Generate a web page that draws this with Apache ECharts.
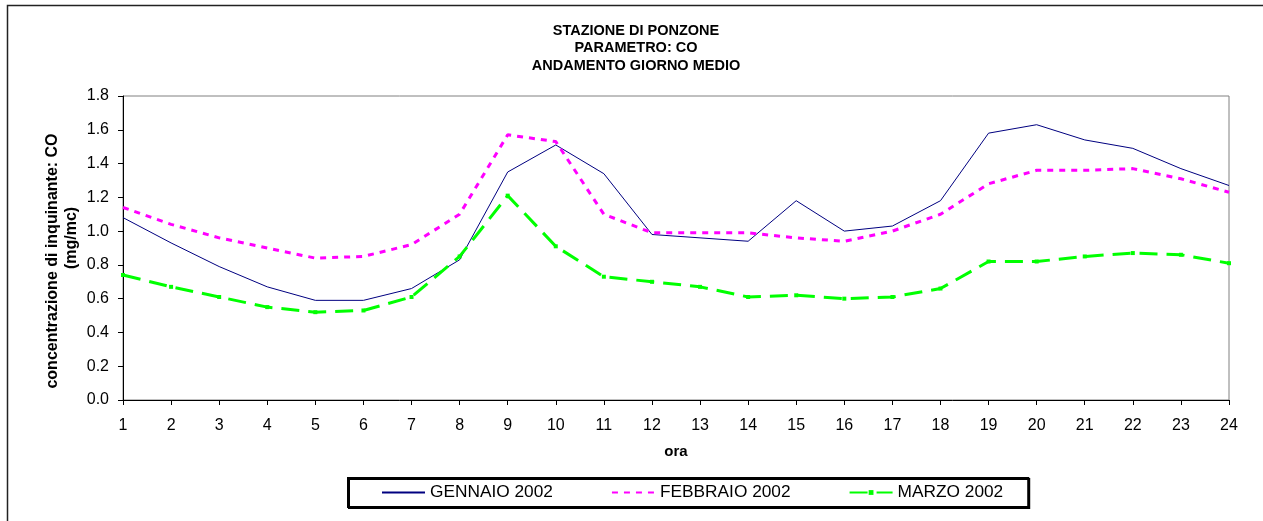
<!DOCTYPE html>
<html>
<head>
<meta charset="utf-8">
<script src="https://cdn.jsdelivr.net/npm/echarts@6/dist/echarts.min.js"></script>
<style>
  html, body { margin: 0; padding: 0; background: #fff; }
  #chart { width: 1263px; height: 521px; }
</style>
</head>
<body>
<div id="chart"></div>
<script>
// ore del giorno
var ore = ['1','2','3','4','5','6','7','8','9','10','11','12','13','14','15','16','17','18','19','20','21','22','23','24'];

var gennaio = [1.08, 0.93, 0.79, 0.67, 0.59, 0.59, 0.66, 0.83, 1.35, 1.51, 1.34, 0.98, 0.96, 0.94, 1.18, 1.00, 1.03, 1.18, 1.58, 1.63, 1.54, 1.49, 1.37, 1.27];
var febbraio = [1.14, 1.04, 0.96, 0.90, 0.84, 0.85, 0.92, 1.10, 1.57, 1.53, 1.10, 0.99, 0.99, 0.99, 0.96, 0.94, 1.00, 1.10, 1.28, 1.36, 1.36, 1.37, 1.31, 1.23];
var marzo = [0.74, 0.67, 0.61, 0.55, 0.52, 0.53, 0.61, 0.85, 1.21, 0.91, 0.73, 0.70, 0.67, 0.61, 0.62, 0.60, 0.61, 0.66, 0.82, 0.82, 0.85, 0.87, 0.86, 0.81];

var titolo = 'STAZIONE DI PONZONE\nPARAMETRO: CO\nANDAMENTO GIORNO MEDIO';
var font = '"Liberation Sans", Arial, sans-serif';

var myChart = echarts.init(document.getElementById('chart'));

var option = {
    animation: false,
    backgroundColor: '#fff',
    textStyle: { fontFamily: font },
    title: {
        text: titolo,
        left: 631,
        textAlign: 'center',
        top: 17,
        textStyle: { fontSize: 14.5, fontWeight: 'bold', lineHeight: 17.5, color: '#000', fontFamily: font }
    },
    grid: {
        left: 123, right: 34, top: 96, bottom: 121,
        show: true, borderColor: '#808080', borderWidth: 1
    },
    legend: {
        left: 348, top: 478,
        padding: [6, 25, 6, 33],
        itemWidth: 43, itemHeight: 6, itemGap: 58,
        borderColor: '#000', borderWidth: 2,
        shadowColor: '#000', shadowOffsetX: 1, shadowOffsetY: 1, shadowBlur: 0,
        textStyle: { fontSize: 17.3, color: '#000', fontFamily: font },
        data: [
            { name: 'GENNAIO 2002', itemStyle: { opacity: 0 } },
            { name: 'FEBBRAIO 2002', itemStyle: { opacity: 0 } },
            { name: 'MARZO 2002' }
        ]
    },
    xAxis: {
        type: 'category',
        data: ore,
        boundaryGap: false,
        axisLine: { lineStyle: { color: '#000', width: 1 } },
        axisTick: { length: 5, lineStyle: { color: '#000' } },
        axisLabel: { fontSize: 16, color: '#000', margin: 18, fontFamily: font },
        splitLine: { show: false }
    },
    yAxis: {
        type: 'value',
        min: 0, max: 1.8, interval: 0.2,
        axisLine: { show: true, lineStyle: { color: '#000', width: 1 } },
        axisTick: { show: true, length: 5, lineStyle: { color: '#000' } },
        axisLabel: {
            fontSize: 16, color: '#000', margin: 14, fontFamily: font,
            formatter: function (v) { return v.toFixed(1); }
        },
        splitLine: { show: false }
    },
    graphic: [
        {
            type: 'rect', silent: true, z: -1,
            shape: { x: 7.5, y: 5.5, width: 1300, height: 600 },
            style: { fill: 'none', stroke: '#222', lineWidth: 1.5 }
        },
        {
            type: 'text', x: 53, y: 261, rotation: Math.PI / 2,
            style: {
                text: 'concentrazione di inquinante: CO', fill: '#000',
                font: 'bold 16px ' + font, align: 'center', verticalAlign: 'middle'
            }
        },
        {
            type: 'text', x: 72, y: 238, rotation: Math.PI / 2,
            style: {
                text: '(mg/mc)', fill: '#000',
                font: 'bold 16px ' + font, align: 'center', verticalAlign: 'middle'
            }
        },
        {
            type: 'text', x: 676, y: 452,
            style: {
                text: 'ora', fill: '#000',
                font: 'bold 15px ' + font, align: 'center', verticalAlign: 'middle'
            }
        }
    ],
    series: [
        {
            name: 'GENNAIO 2002',
            type: 'line',
            data: gennaio,
            symbol: 'none',
            lineStyle: { color: '#000080', width: 1 },
            itemStyle: { color: '#000080' }
        },
        {
            name: 'FEBBRAIO 2002',
            type: 'line',
            data: febbraio,
            symbol: 'none',
            lineStyle: { color: '#ff00ff', width: 3, type: [6, 6] },
            itemStyle: { color: '#ff00ff' }
        },
        {
            name: 'MARZO 2002',
            type: 'line',
            data: marzo,
            symbol: 'rect',
            symbolSize: 4,
            lineStyle: { color: '#00ff00', width: 3, type: [18, 9] },
            itemStyle: { color: '#00ff00' }
        }
    ]
};

myChart.setOption(option);
</script>
</body>
</html>
